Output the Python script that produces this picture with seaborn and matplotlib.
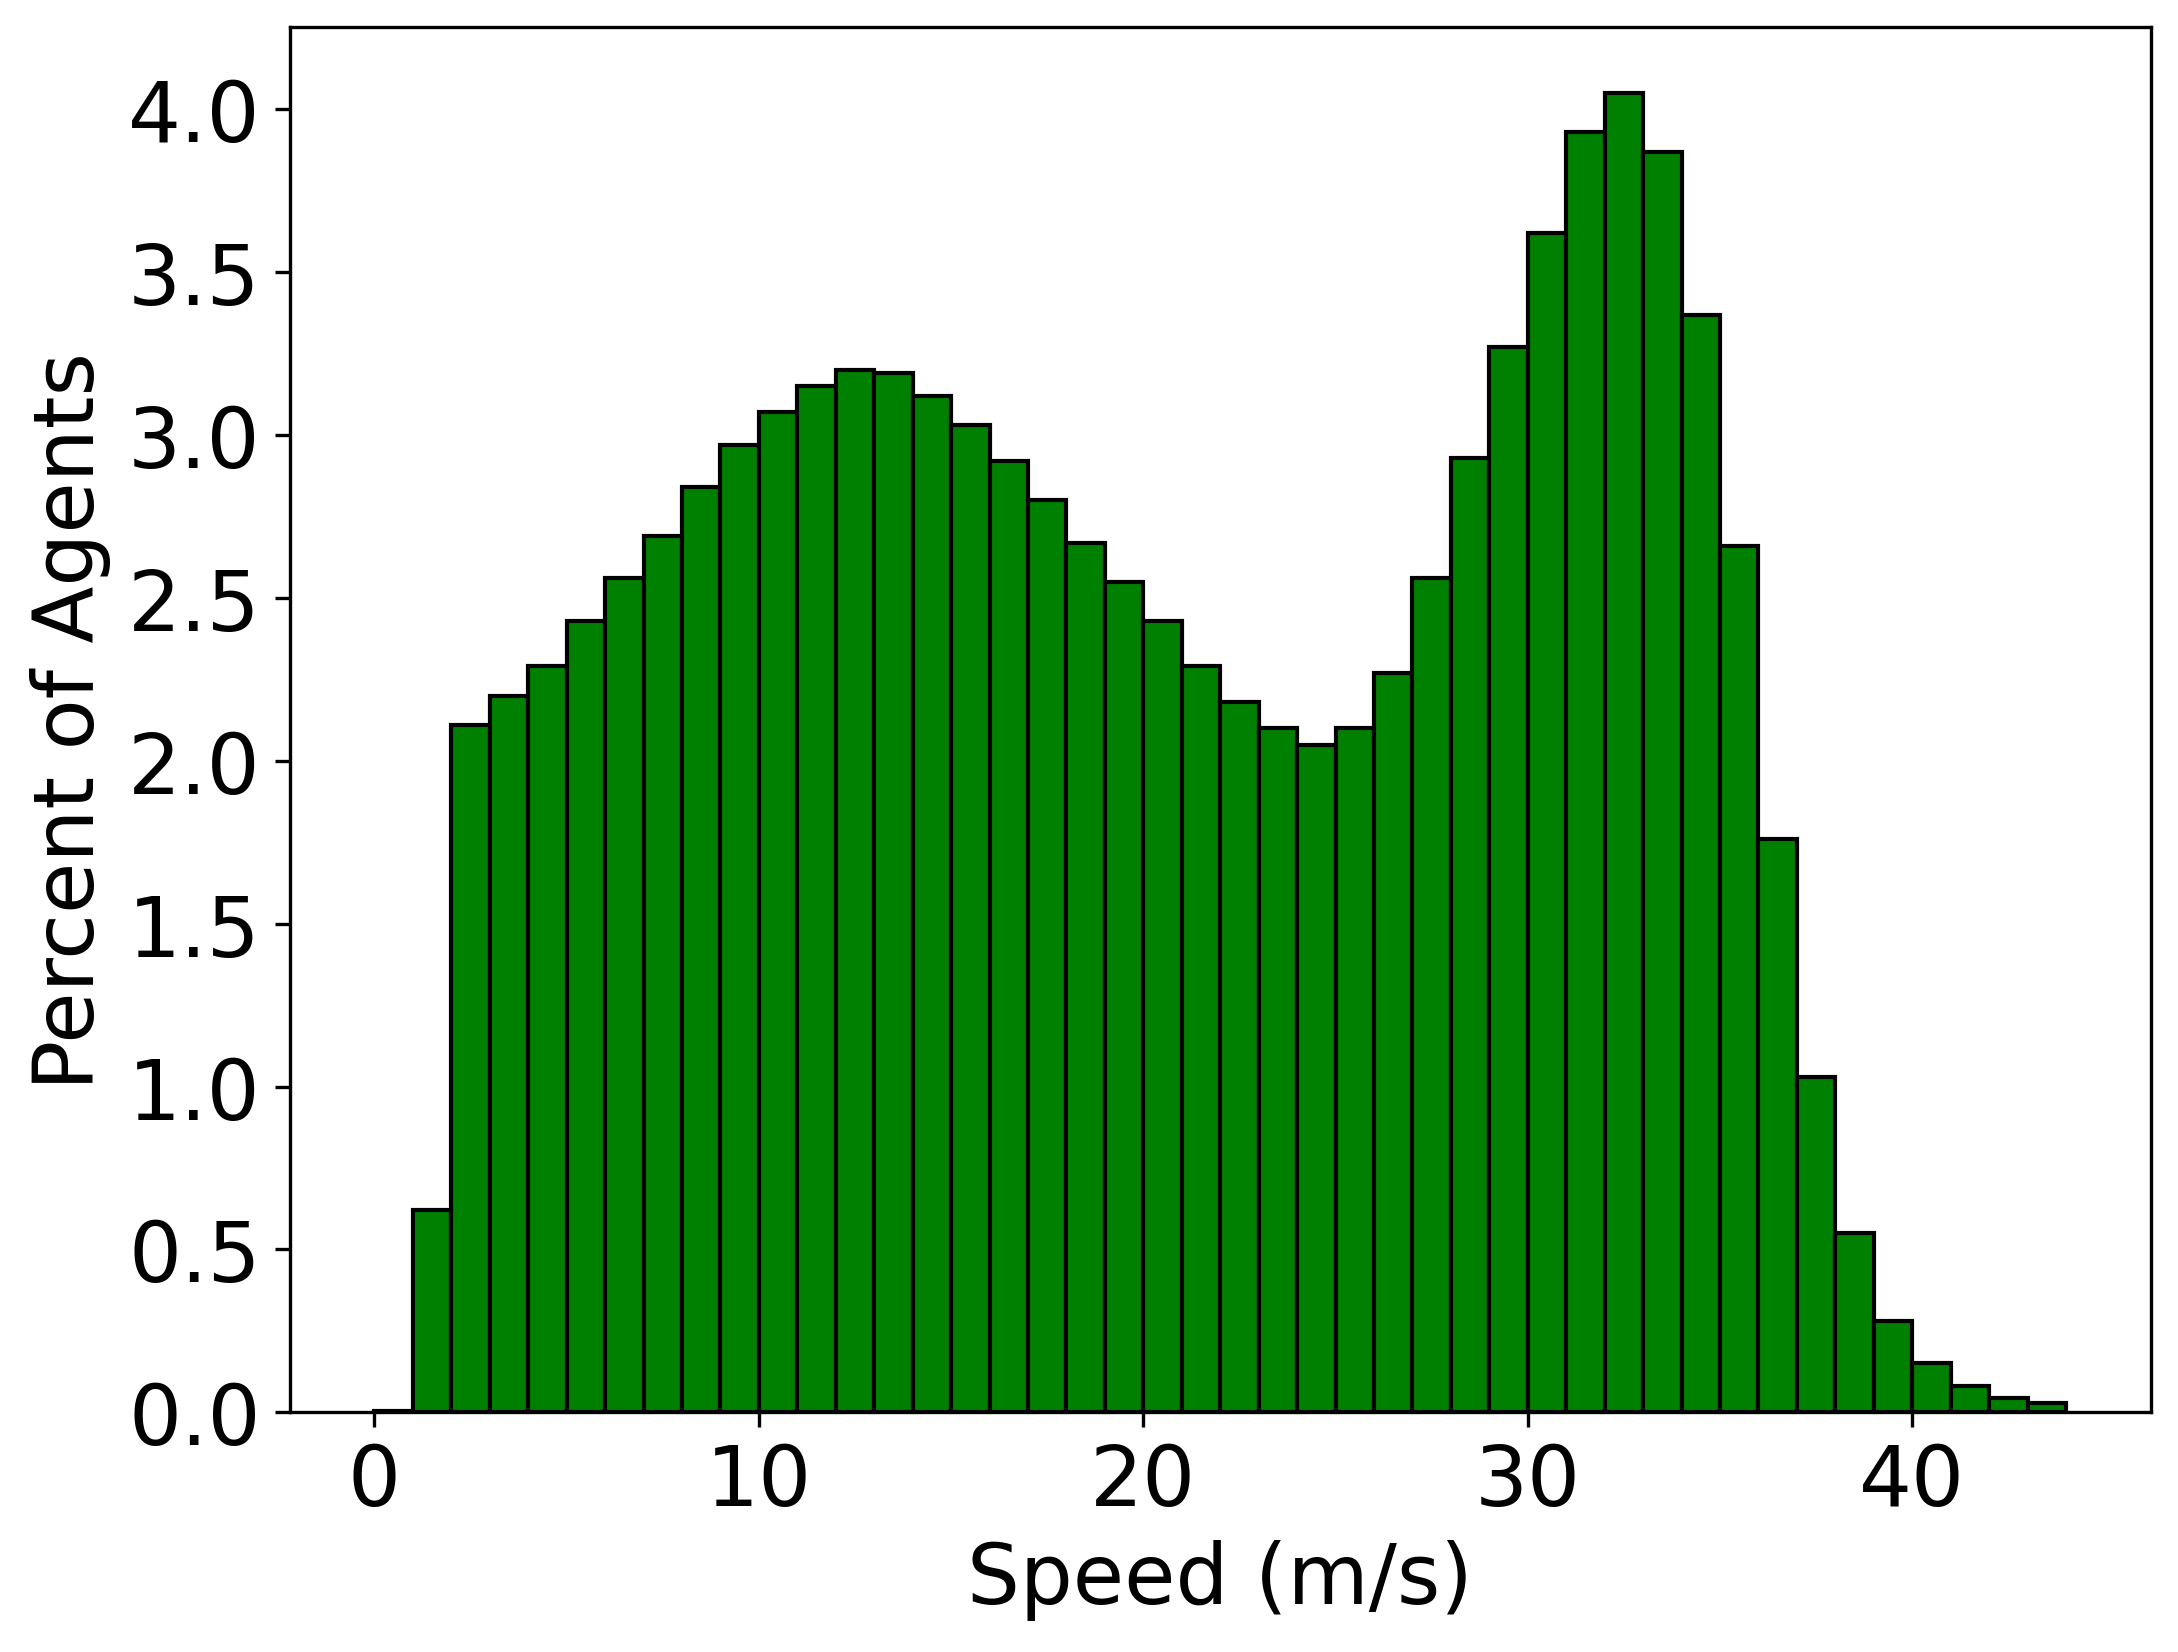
import numpy as np
import pandas as pd
import matplotlib
matplotlib.use("Agg")
import matplotlib.pyplot as plt
import seaborn as sns

# Histogram of agent speeds, 1 m/s bins from 0 to 44 (percent of agents per bin)
bin_edges = list(range(0, 45))
percent = [
    0.004, 0.62, 2.11, 2.20, 2.29, 2.43, 2.56, 2.69, 2.84, 2.97,
    3.07, 3.15, 3.20, 3.19, 3.12, 3.03, 2.92, 2.80, 2.67, 2.55,
    2.43, 2.29, 2.18, 2.10, 2.05, 2.10, 2.27, 2.56, 2.93, 3.27,
    3.62, 3.93, 4.05, 3.87, 3.37, 2.66, 1.76, 1.03, 0.55, 0.28,
    0.15, 0.08, 0.045, 0.03,
]

sns.set_style("ticks")
plt.rcParams["font.family"] = ["DejaVu Sans"]
plt.rcParams.update({
    "text.color": "black",
    "axes.labelcolor": "black",
    "xtick.color": "black",
    "ytick.color": "black",
    "axes.edgecolor": "black",
})

df = pd.DataFrame({
    "speed": np.array(bin_edges[:-1]) + 0.5,
    "percent": percent,
})

fig, ax = plt.subplots(figsize=(7.2633, 5.5097), dpi=300)
sns.histplot(data=df, x="speed", weights="percent", bins=bin_edges,
             color="green", edgecolor="black", linewidth=1.0, alpha=1.0, ax=ax)

ax.set_xlabel("Speed (m/s)", fontsize=20)
ax.set_ylabel("Percent of Agents", fontsize=20)
ax.tick_params(labelsize=20, direction="out", length=3.5, width=0.8, colors="black")
ax.set_xticks([0, 10, 20, 30, 40])
ax.set_yticks(np.arange(0, 4.01, 0.5))
ax.margins(x=0.05, y=0.05)
for s in ax.spines.values():
    s.set_visible(True)
    s.set_color("black")
    s.set_linewidth(0.8)

plt.subplots_adjust(left=0.133, right=0.987, top=0.983, bottom=0.145)
plt.savefig("out.png", dpi=300)
